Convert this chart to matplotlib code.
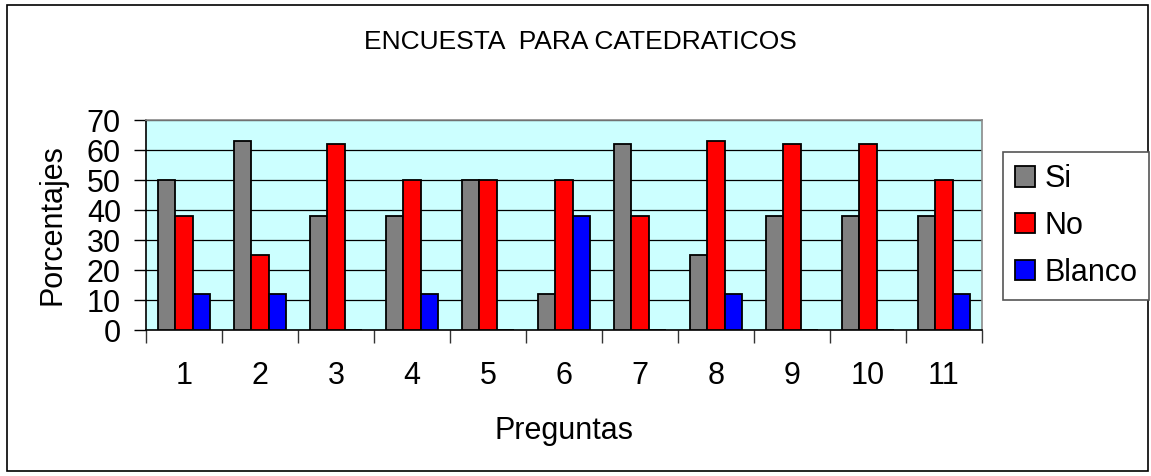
# grouped bar chart of the survey answers

import numpy as np
import matplotlib
matplotlib.use("Agg")
import matplotlib.pyplot as plt
from matplotlib.patches import Rectangle

plt.rcParams['font.family'] = ['Liberation Sans', 'DejaVu Sans']

preguntas = ['1', '2', '3', '4', '5', '6', '7', '8', '9', '10', '11']
si = [50, 63, 38, 38, 50, 12, 62, 25, 38, 38, 38]
no = [38, 25, 62, 50, 50, 50, 38, 63, 62, 62, 50]
blanco = [12, 12, 0, 12, 0, 38, 0, 12, 0, 0, 12]
series = ['Si', 'No', 'Blanco']
colores = ['#808080', '#FF0000', '#0000FF']

W, H = 1151, 476
fig = plt.figure(figsize=(W / 100, H / 100), dpi=100)

# outer frame of the chart
fig.patches.append(Rectangle((7 / W, 5 / H), 1141 / W, 466 / H, transform=fig.transFigure,
                             fill=False, edgecolor='black', linewidth=1.2))

ax = fig.add_axes([146 / W, 1 - 330 / H, (982 - 146) / W, (330 - 120) / H])
ax.set_facecolor('#CCFFFF')

x = np.arange(len(preguntas))
ancho = 0.225
for i, (nombre, vals) in enumerate(zip(series, [si, no, blanco])):
    ax.bar(x + (i - 1) * ancho, vals, ancho, color=colores[i], edgecolor='black',
           linewidth=1.3, label=nombre, zorder=3)

ax.set_xlim(-0.5, len(preguntas) - 0.5)
ax.set_ylim(0, 70)
ax.set_yticks(range(0, 71, 10))
ax.yaxis.grid(True, color='black', linewidth=0.9, zorder=1)
ax.set_axisbelow(True)

fs = 22
# category labels centered, ticks on the group boundaries
ax.set_xticks(x)
ax.set_xticklabels(preguntas, fontsize=fs)
ax.tick_params(axis='x', which='major', length=0, pad=22)
ax.set_xticks(np.arange(-0.5, len(preguntas), 1), minor=True)
ax.tick_params(axis='x', which='minor', length=9, width=1, color='#333333', direction='out')
ax.tick_params(axis='y', labelsize=fs, length=9, width=1, direction='out', pad=9)

for s in ['top', 'right']:
    ax.spines[s].set_color('#8a8a8a')
    ax.spines[s].set_linewidth(1.2)
for s in ['left', 'bottom']:
    ax.spines[s].set_color('black')
    ax.spines[s].set_linewidth(1.2)

ax.set_ylabel('Porcentajes', fontsize=fs, labelpad=14)
ax.set_xlabel('Preguntas', fontsize=fs, labelpad=18)

fig.text(580 / W, 1 - 42 / H, 'ENCUESTA  PARA CATEDRATICOS', ha='center', va='center',
         fontsize=19)

leg = fig.legend(loc='upper left', bbox_to_anchor=(1003 / W, 1 - 152 / H), borderaxespad=0,
                 fontsize=fs, frameon=True, fancybox=False, framealpha=1,
                 edgecolor='#555555', handlelength=0.65, handleheight=0.65,
                 handletextpad=0.3, labelspacing=0.55, borderpad=0.4)
leg.get_frame().set_linewidth(1.2)

fig.savefig('out.png', dpi=100)
